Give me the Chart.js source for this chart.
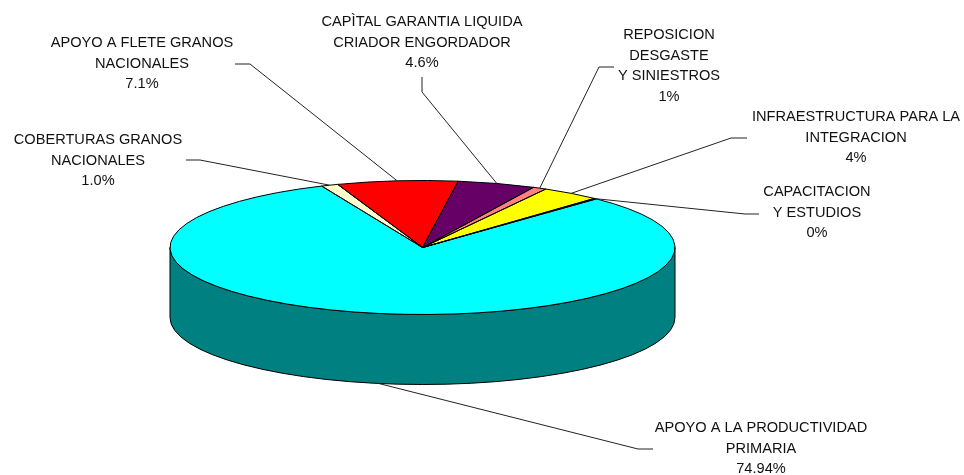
<!DOCTYPE html>
<html>
<head>
<meta charset="utf-8">
<style>
  html, body { margin: 0; padding: 0; background: #fff; }
  canvas { display: block; }
</style>
</head>
<body>
<canvas id="pie3d" width="964" height="475"></canvas>
<script src="https://cdn.jsdelivr.net/npm/chart.js@4/dist/chart.umd.min.js"></script>
<script>
// Values read from the data labels (the 1%, 4% and 0% slices are rounded there, sizes estimated)
const categories = [
  'APOYO A LA PRODUCTIVIDAD PRIMARIA',
  'COBERTURAS GRANOS NACIONALES',
  'APOYO A FLETE GRANOS NACIONALES',
  'CAPÌTAL GARANTIA LIQUIDA CRIADOR ENGORDADOR',
  'REPOSICION DESGASTE Y SINIESTROS',
  'INFRAESTRUCTURA PARA LA INTEGRACION',
  'CAPACITACION Y ESTUDIOS'
];
const values = [74.94, 1.0, 7.1, 4.6, 0.8, 3.5, 0.15];
const valueLabels = ['74.94%', '1.0%', '7.1%', '4.6%', '1%', '4%', '0%'];
const labelLines = [
  ['APOYO A LA PRODUCTIVIDAD', 'PRIMARIA'],
  ['COBERTURAS GRANOS', 'NACIONALES'],
  ['APOYO A FLETE GRANOS', 'NACIONALES'],
  ['CAPÌTAL GARANTIA LIQUIDA', 'CRIADOR ENGORDADOR'],
  ['REPOSICION', 'DESGASTE', 'Y SINIESTROS'],
  ['INFRAESTRUCTURA PARA LA', 'INTEGRACION'],
  ['CAPACITACION', 'Y ESTUDIOS']
];

const topColors = ['#00FFFF', '#FFFFCC', '#FF0000', '#660066', '#FF8080', '#FFFF00', '#CCFFFF'];
const wallColors = ['#008080', '#808066', '#800000', '#330033', '#804040', '#808000', '#668080'];

// Where the pie sits on the page and how it is tilted
const cx = 422.5, cy = 247.5, rx = 252.5, ry = 67, depth = 70;

// Label placement: centre x, first line y, elbow of the leader, end of the short stub
const callouts = [
  { x: 761, y: 428, elbow: [638, 449], stub: [653, 449] },
  { x: 98, y: 140, elbow: [200, 160], stub: [186, 160] },
  { x: 142, y: 43, elbow: [250, 64], stub: [235, 64] },
  { x: 422, y: 22, elbow: [422, 92], stub: [422, 77] },
  { x: 669, y: 35, elbow: [599, 67], stub: [614, 67] },
  { x: 856, y: 117, elbow: [731, 138], stub: [747, 138] },
  { x: 817, y: 192, elbow: [745, 214], stub: [759, 214] }
];

const pie3d = {
  id: 'pie3d',
  // side wall goes under the top face
  beforeDatasetsDraw(chart) {
    const ctx = chart.ctx;
    ctx.save();
    ctx.strokeStyle = '#000';
    ctx.lineWidth = 1;
    chart.getDatasetMeta(0).data.forEach((arc, i) => {
      [0, Math.PI * 2, -Math.PI * 2].forEach(shift => {
        const a0 = Math.max(arc.startAngle + shift, 0);
        const a1 = Math.min(arc.endAngle + shift, Math.PI);
        if (a1 <= a0) return;
        ctx.beginPath();
        ctx.ellipse(cx, cy, rx, ry, 0, a0, a1);
        ctx.ellipse(cx, cy + depth, rx, ry, 0, a1, a0, true);
        ctx.closePath();
        ctx.fillStyle = wallColors[i];
        ctx.fill();
        ctx.stroke();
      });
    });
    ctx.restore();
  },
  // squash the library's arcs into the tilted ellipse
  beforeDatasetDraw(chart) {
    const arc = chart.getDatasetMeta(0).data[0];
    const ctx = chart.ctx;
    ctx.save();
    ctx.translate(cx, cy);
    ctx.scale(1, ry / rx);
    ctx.translate(-arc.x, -arc.y);
  },
  afterDatasetDraw(chart) {
    chart.ctx.restore();
  },
  afterDatasetsDraw(chart) {
    const ctx = chart.ctx;
    const arcs = chart.getDatasetMeta(0).data;
    ctx.save();
    ctx.strokeStyle = '#000';
    ctx.lineWidth = 1;
    arcs.forEach(arc => {
      ctx.beginPath();
      ctx.moveTo(cx, cy);
      ctx.ellipse(cx, cy, rx, ry, 0, arc.startAngle, arc.endAngle);
      ctx.closePath();
      ctx.stroke();
    });

    // leaders and labels
    ctx.font = '14.6px "Liberation Sans", Arial, sans-serif';
    ctx.textAlign = 'center';
    ctx.textBaseline = 'middle';
    ctx.lineWidth = 1;
    arcs.forEach((arc, i) => {
      const c = callouts[i];
      const mid = (arc.startAngle + arc.endAngle) / 2;
      const px = cx + rx * Math.cos(mid);
      let py = cy + ry * Math.sin(mid);
      if (Math.sin(mid) > 0) py += depth;
      ctx.strokeStyle = '#222';
      ctx.beginPath();
      ctx.moveTo(c.stub[0], c.stub[1]);
      ctx.lineTo(c.elbow[0], c.elbow[1]);
      ctx.lineTo(px, py);
      ctx.stroke();

      ctx.fillStyle = '#111';
      labelLines[i].concat(valueLabels[i]).forEach((line, n) => {
        ctx.fillText(line, c.x, c.y + n * 20.5);
      });
    });
    ctx.restore();
  }
};

const chart = new Chart(document.getElementById('pie3d').getContext('2d'), {
  type: 'pie',
  data: {
    labels: categories,
    datasets: [{
      data: values,
      backgroundColor: topColors,
      borderWidth: 0,
      radius: rx,
      clip: false
    }]
  },
  options: {
    responsive: false,
    animation: false,
    events: [],
    rotation: 43.5,
    plugins: {
      legend: { display: false },
      title: { display: false },
      tooltip: { enabled: false }
    }
  },
  plugins: [pie3d]
});
</script>
</body>
</html>
